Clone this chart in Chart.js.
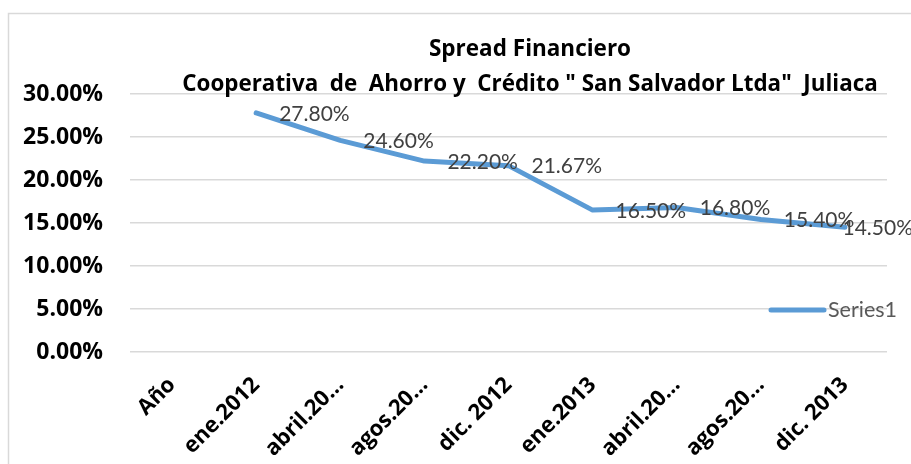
<!DOCTYPE html>
<html>
<head>
<meta charset="utf-8">
<script src="https://cdn.jsdelivr.net/npm/chart.js@4.4.1/dist/chart.umd.min.js"></script>
<style>
html,body{margin:0;padding:0;background:#fff;}
#wrap{width:911px;height:464px;position:relative;}
</style>
</head>
<body>
<div id="wrap"><canvas id="c" width="911" height="464"></canvas></div>
<script>
const categories = ["Año", "ene.2012", "abril.20…", "agos.20…", "dic. 2012", "ene.2013", "abril.20…", "agos.20…", "dic. 2013"];
const seriesName = "Series1";
const seriesValues = [null, 27.80, 24.60, 22.20, 21.67, 16.50, 16.80, 15.40, 14.50];
const titleLines = ["Spread Financiero", "Cooperativa  de  Ahorro y  Crédito \" San Salvador Ltda\"  Juliaca"];
const yTicks = [0, 5, 10, 15, 20, 25, 30];

const FONT = "Lato, 'Open Sans', sans-serif";
const BOLD_FONT = "'Open Sans', Lato, sans-serif";
const LINE_COLOR = "#5B9BD5";

const framePlugin = {
  id: 'frame',
  beforeDraw(chart) {
    const ctx = chart.ctx;
    ctx.save();
    ctx.fillStyle = '#fff';
    ctx.fillRect(0, 0, chart.width, chart.height);
    ctx.strokeStyle = '#d9d9d9';
    ctx.lineWidth = 1.5;
    ctx.strokeRect(8.5, 13.5, chart.width + 20, chart.height + 20);
    ctx.restore();
  }
};

const overlayPlugin = {
  id: 'overlay',
  afterDatasetsDraw(chart) {
    const ctx = chart.ctx;
    ctx.save();
    // data labels
    ctx.font = "21px " + FONT;
    ctx.fillStyle = '#404040';
    ctx.textBaseline = 'middle';
    ctx.textAlign = 'left';
    const meta = chart.getDatasetMeta(0);
    meta.data.forEach((pt, i) => {
      const v = seriesValues[i];
      if (v === null || v === undefined) return;
      const txt = v.toFixed(2) + '%';
      const w = ctx.measureText(txt).width;
      let x = pt.x + 23;
      if (x + w > chart.width + 2) x = chart.width + 2 - w;
      ctx.fillText(txt, x, pt.y + 1);
    });
    // title
    ctx.fillStyle = '#000';
    ctx.textAlign = 'center';
    ctx.font = "bold 22.5px " + BOLD_FONT;
    ctx.fillText(titleLines[0], 530, 50);
    ctx.font = "bold 22.4px " + BOLD_FONT;
    ctx.fillText(titleLines[1], 530, 85);
    // legend
    const ly = chart.scales.y.getPixelForValue(5) + 1;
    ctx.strokeStyle = LINE_COLOR;
    ctx.lineWidth = 5;
    ctx.lineCap = 'round';
    ctx.beginPath();
    ctx.moveTo(771, ly);
    ctx.lineTo(824, ly);
    ctx.stroke();
    ctx.font = "21.5px " + FONT;
    ctx.fillStyle = '#595959';
    ctx.textAlign = 'left';
    ctx.fillText(seriesName, 828, ly);
    ctx.restore();
  }
};

new Chart(document.getElementById('c'), {
  type: 'line',
  data: {
    labels: categories,
    datasets: [{
      label: seriesName,
      data: seriesValues,
      borderColor: LINE_COLOR,
      backgroundColor: LINE_COLOR,
      borderWidth: 5,
      pointRadius: 0,
      tension: 0,
      borderCapStyle: 'round',
      borderJoinStyle: 'round',
      spanGaps: false
    }]
  },
  options: {
    responsive: false,
    animation: false,
    devicePixelRatio: 1,
    layout: { padding: { left: 8, right: 24, top: 94, bottom: 0 } },
    plugins: {
      legend: { display: false },
      title: { display: false },
      tooltip: { enabled: false }
    },
    scales: {
      x: {
        offset: true,
        grid: { display: false },
        border: { display: false },
        ticks: {
          autoSkip: false,
          maxRotation: 45,
          minRotation: 45,
          padding: 12,
          color: '#000',
          font: { family: BOLD_FONT, size: 22, weight: 'bold' }
        },
        afterFit(s) { s.height = 112; }
      },
      y: {
        min: 0,
        max: 30,
        afterBuildTicks(s) { s.ticks = yTicks.map(v => ({ value: v })); },
        grid: { color: '#d9d9d9', lineWidth: 1.5, drawTicks: false },
        border: { display: false },
        ticks: {
          padding: 27,
          color: '#000',
          font: { family: BOLD_FONT, size: 23, weight: 'bold' },
          callback: v => v.toFixed(2) + '%'
        },
        afterFit(s) { s.width = 122; }
      }
    }
  },
  plugins: [framePlugin, overlayPlugin]
});
</script>
</body>
</html>
